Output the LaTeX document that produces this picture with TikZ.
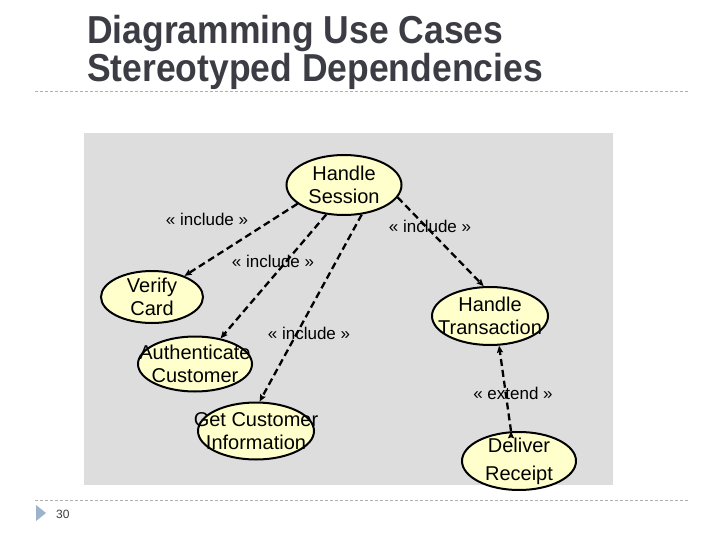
\documentclass[tikz,border=0pt]{standalone}
\usepackage{fontspec}
\setmainfont{Liberation Sans}
\newfontfamily\titlefont{Liberation Sans}[FakeStretch=0.91]
\usetikzlibrary{shapes.geometric,arrows.meta}

\definecolor{caseyellow}{RGB}{255,255,204}
\definecolor{panelgray}{RGB}{221,221,221}
\definecolor{titlegray}{RGB}{60,60,68}
\definecolor{rulegray}{RGB}{176,176,176}
\definecolor{bulletblue}{RGB}{157,179,204}

\begin{document}
\begin{tikzpicture}[x=1pt, y=-1pt,
  usecase/.style={ellipse, draw=black, line width=2pt, fill=caseyellow, inner sep=0pt},
  casetext/.style={align=center, inner sep=0pt, font=\fontsize{20}{23}\selectfont},
  dep/.style={draw=black, line width=2.3pt, dash pattern=on 7pt off 4pt,
    -{Stealth[length=7pt, width=6pt, inset=1pt]}},
  stereo/.style={inner sep=0pt, font=\fontsize{17}{20}\selectfont},
  slideline/.style={draw=rulegray, line width=0.7pt, dash pattern=on 3pt off 2pt}]

\useasboundingbox (0,0) rectangle (720,540);

\node[anchor=base west, inner sep=0pt, text=titlegray, font=\fontsize{39}{42}\titlefont\bfseries] (title1) at (87,44) {Diagramming Use Cases};
\node[anchor=base west, inner sep=0pt, text=titlegray, font=\fontsize{39}{42}\titlefont\bfseries] (title2) at (87,82) {Stereotyped Dependencies};
\coordinate (rule1a) at (35,91);
\coordinate (rule1b) at (688,91);
\draw[slideline] (rule1a) -- (rule1b);

\node[fill=panelgray, inner sep=0pt, minimum width=529pt, minimum height=352pt, anchor=north west] (panel) at (84,133) {};

\node[usecase, minimum width=115pt, minimum height=60pt, label={[casetext]center:Handle\\Session}] (hs) at (344,185) {};
\node[usecase, minimum width=102pt, minimum height=52pt, label={[casetext]center:Verify\\Card}] (vc) at (152,297) {};
\node[usecase, minimum width=114pt, minimum height=55pt, label={[casetext]center:Authenticate\\Customer}] (ac) at (195,364) {};
\node[usecase, minimum width=116pt, minimum height=57pt, label={[casetext]center:Get Customer\\Information}] (gci) at (256,431) {};
\node[usecase, minimum width=116pt, minimum height=58pt, label={[casetext]center:Handle\\Transaction}] (ht) at (490,316) {};
\node[usecase, minimum width=114pt, minimum height=58pt, label={[casetext, font=\fontsize{20}{28}\selectfont]center:Deliver\\Receipt}] (dr) at (519,461) {};

\path[dep]
(hs.202) edge (vc.33)
(hs.239) edge (ac.45)
(hs.301) edge (gci.83)
(hs.347) edge (ht.102)
(dr.105) edge (ht.287)
;

\node[stereo] (inc_vc) at (207,219) {« include »};
\node[stereo] (inc_ac) at (273,261) {« include »};
\node[stereo] (inc_gci) at (309,333) {« include »};
\node[stereo] (inc_ht) at (430,226) {« include »};
\node[stereo] (ext_dr) at (513,393) {« extend »};

\coordinate (rule2a) at (35,500);
\coordinate (rule2b) at (688,500);
\draw[slideline] (rule2a) -- (rule2b);
\coordinate (tri_a) at (36,505);
\coordinate (tri_b) at (46,513);
\coordinate (tri_c) at (36,521);
\fill[bulletblue] (tri_a) -- (tri_b) -- (tri_c) -- cycle;
\node[anchor=base west, inner sep=0pt, text=titlegray, font=\fontsize{12}{14}\selectfont] (pagenum) at (56,518) {30};

\end{tikzpicture}
\end{document}
